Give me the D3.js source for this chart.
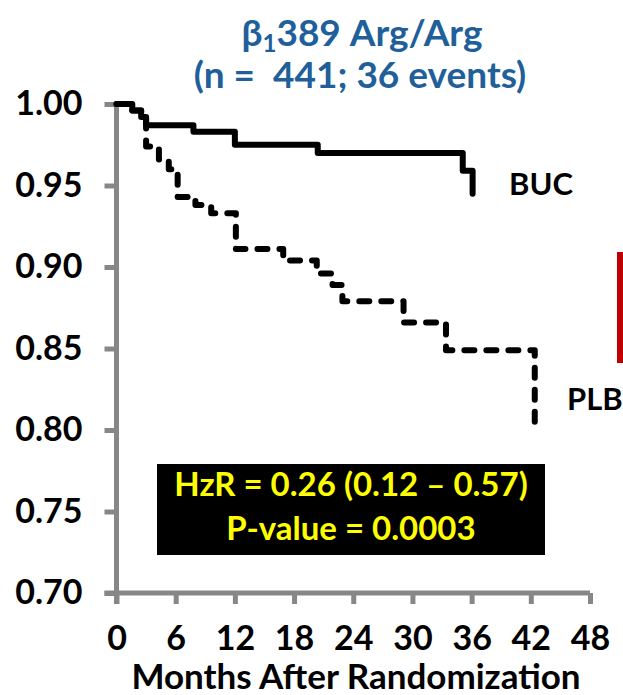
<!DOCTYPE html>
<html>
  <head>
    <meta charset="UTF-8">
    <title>Kaplan-Meier Arg/Arg</title>
    <script src="https://d3js.org/d3.v7.min.js"></script>
    <style>
      body { margin: 0; background: #fff; }
      text { font-family: Lato, "Open Sans", sans-serif; font-weight: bold; }
    </style>
  </head>
  <body>
    <svg width="623" height="695"></svg>
    <script>
      // Data (months, survival)
      var bucMonths = [0, 1.6, 2.5, 3.0, 7.8, 12.0, 20.4, 35.1, 36.1];
      var bucSurv   = [1.000, 0.996, 0.992, 0.987, 0.983, 0.975, 0.970, 0.959, 0.945];

      var plbMonths = [0, 1.6, 2.5, 3.0, 4.3, 5.3, 6.2, 8.0, 9.6, 12.1, 16.9, 20.3, 21.9, 22.9, 29.1, 33.4, 42.4];
      var plbSurv   = [1.000, 0.996, 0.992, 0.974, 0.966, 0.960, 0.943, 0.938, 0.933, 0.911, 0.904, 0.896, 0.889, 0.879, 0.866, 0.849, 0.798];

      var xTicks = [0, 6, 12, 18, 24, 30, 36, 42, 48];
      var yTicks = [1.00, 0.95, 0.90, 0.85, 0.80, 0.75, 0.70];

      var titleLine2 = "(n =  441; 36 events)";
      var statLines = ["HzR = 0.26 (0.12 \u2013 0.57)", "P-value = 0.0003"];

      var svg = d3.select("svg");
      var axisColor = "#878787";

      // Scales
      var x = d3.scaleLinear().domain([0, 48]).range([116.5, 590]);
      var y = d3.scaleLinear().domain([0.70, 1.00]).range([593, 104]);

      // Title
      var title = svg.append("text")
          .attr("x", 362)
          .attr("y", 46)
          .attr("text-anchor", "middle")
          .attr("fill", "#215f9a")
          .style("font-size", "37px");
      title.append("tspan").text("\u03b2");
      title.append("tspan").attr("dy", 6).style("font-size", "24px").text("1");
      title.append("tspan").attr("dy", -6).text("389 Arg/Arg");

      svg.append("text")
          .attr("x", 360)
          .attr("y", 88)
          .attr("text-anchor", "middle")
          .attr("fill", "#215f9a")
          .style("font-size", "37px")
          .style("white-space", "pre")
          .text(titleLine2);

      // Axes
      var yAxis = d3.axisLeft(y)
          .tickValues(yTicks)
          .tickFormat(d3.format(".2f"))
          .tickSize(12)
          .tickSizeOuter(0)
          .tickPadding(22);
      var xAxis = d3.axisBottom(x)
          .tickValues(xTicks)
          .tickSize(11)
          .tickSizeOuter(0)
          .tickPadding(22);

      var gx = svg.append("g")
          .attr("transform", "translate(0," + y(0.70) + ")")
          .call(xAxis);
      var gy = svg.append("g")
          .attr("transform", "translate(" + x(0) + ",0)")
          .call(yAxis);

      [gx, gy].forEach(function(g) {
        g.select(".domain").attr("stroke", axisColor).attr("stroke-width", 5);
        g.selectAll(".tick line").attr("stroke", axisColor).attr("stroke-width", 5);
        g.selectAll(".tick text")
            .attr("fill", "#000")
            .style("font-family", "Lato, sans-serif")
            .style("font-weight", "bold")
            .style("font-size", "34px");
      });
      // extend x axis line to the left of y axis, y axis down below x axis
      gx.select(".domain").attr("d", "M" + (x(0) - 12) + ",0H" + x(48));
      gy.select(".domain").attr("d", "M0," + (y(1.00) - 2) + "V" + (y(0.70) + 11));

      // x axis title
      svg.append("text")
          .attr("x", 356)
          .attr("y", 689)
          .attr("text-anchor", "middle")
          .attr("fill", "#000")
          .style("font-size", "35px")
          .text("Months After Randomization");

      // Survival lines
      var line = d3.line()
          .x(function(d) { return x(d[0]); })
          .y(function(d) { return y(d[1]); })
          .curve(d3.curveStepAfter);

      var buc = bucMonths.map(function(m, i) { return [m, bucSurv[i]]; });
      var plb = plbMonths.map(function(m, i) { return [m, plbSurv[i]]; });

      svg.append("path")
          .datum(plb)
          .attr("fill", "none")
          .attr("stroke", "#000")
          .attr("stroke-width", 6)
          .attr("stroke-linecap", "round")
          .attr("stroke-linejoin", "round")
          .attr("stroke-dasharray", "10,12")
          .attr("d", line);

      svg.append("path")
          .datum(buc)
          .attr("fill", "none")
          .attr("stroke", "#000")
          .attr("stroke-width", 6)
          .attr("stroke-linecap", "round")
          .attr("stroke-linejoin", "round")
          .attr("d", line);

      // Group labels
      svg.append("text")
          .attr("x", 509)
          .attr("y", 195)
          .attr("fill", "#000")
          .style("font-size", "31px")
          .text("BUC");
      svg.append("text")
          .attr("x", 567)
          .attr("y", 410)
          .attr("fill", "#000")
          .style("font-size", "31px")
          .text("PLB");

      // Red bar at right edge
      svg.append("rect")
          .attr("x", 617)
          .attr("y", 252)
          .attr("width", 6)
          .attr("height", 111)
          .attr("fill", "#c00000");

      // Stats box
      svg.append("rect")
          .attr("x", 157)
          .attr("y", 464)
          .attr("width", 388)
          .attr("height", 91)
          .attr("fill", "#000");
      svg.selectAll(".stat")
          .data(statLines)
          .enter().append("text")
          .attr("class", "stat")
          .attr("x", 351)
          .attr("y", function(d, i) { return 496 + i * 44; })
          .attr("text-anchor", "middle")
          .attr("fill", "#ffff00")
          .style("font-size", "33px")
          .text(function(d) { return d; });
    </script>
  </body>
</html>
